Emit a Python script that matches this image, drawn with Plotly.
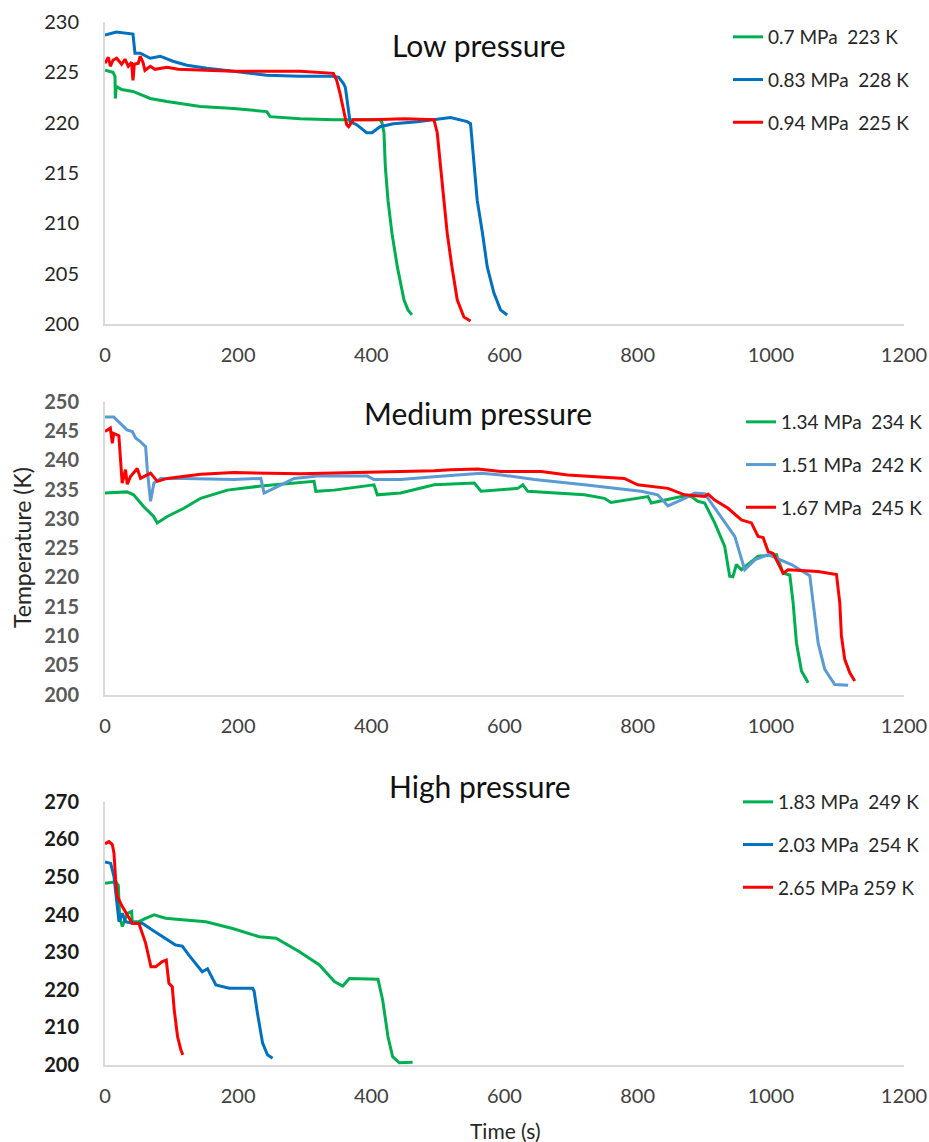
import plotly.graph_objects as go

# ---- Low pressure runs ----
lo_green_t = [0, 12, 15, 15.5, 17, 25, 42, 68, 93, 143, 193, 243, 248, 293, 343, 413, 416, 419, 421, 425, 431, 439, 449, 455, 461]
lo_green_T = [225.2, 225.0, 224.6, 222.4, 223.6, 223.3, 223.1, 222.4, 222.1, 221.6, 221.4, 221.1, 220.6, 220.4, 220.3,
              220.3, 220.0, 219.0, 215.6, 212.3, 209.0, 205.7, 202.4, 201.4, 200.9]

lo_blue_t = [0, 17, 42, 44, 45, 53, 68, 83, 102, 123, 153, 193, 243, 293, 343, 351, 358, 361, 366, 368, 378, 393, 401,
             413, 433, 469, 519, 544, 549, 554, 559, 567, 574, 584, 594, 604]
lo_blue_T = [228.7, 229.0, 228.8, 227.5, 226.9, 226.9, 226.4, 226.6, 226.1, 225.7, 225.4, 225.1, 224.7, 224.6, 224.6,
             224.5, 223.9, 223.5, 221.3, 220.1, 219.8, 219.0, 219.0, 219.6, 219.9, 220.1, 220.5, 220.1, 219.9, 216.3,
             212.3, 209.0, 205.7, 203.1, 201.4, 200.9]

lo_red_t = [0, 5, 8, 12, 17.5, 25, 30, 35, 40, 42, 44, 50, 53, 57, 60, 68, 75, 93, 110, 143, 193, 243, 293, 343, 348,
            353, 358, 363, 366, 373, 400, 450, 494, 499, 504, 509, 514, 521, 529, 539, 549]
lo_red_T = [225.9, 226.5, 225.6, 226.2, 226.4, 225.8, 226.3, 225.6, 226.0, 224.2, 225.8, 225.9, 226.6, 226.0, 225.2,
            225.6, 225.3, 225.5, 225.3, 225.2, 225.1, 225.1, 225.1, 224.9, 224.2, 222.9, 221.3, 219.8, 219.6, 220.3,
            220.3, 220.4, 220.3, 219.0, 215.6, 212.3, 209.0, 205.7, 202.4, 200.7, 200.3]

# ---- Medium pressure runs ----
md_green_t = [0, 33, 43, 58, 73, 78.5, 93.5, 118.5, 143.6, 183.8, 234, 314, 316.6, 344, 404, 409, 444, 494.5, 554.7,
              564.7, 620, 627.5, 635, 670, 720, 750, 760, 815.5, 820.4, 865.5, 880.5, 890.5, 900.6, 915.7, 930.7,
              938.2, 943, 948.3, 955.8, 980.9, 1008.4, 1018.5, 1028.5, 1033.5, 1038.5, 1046, 1056]
md_green_T = [234.4, 234.6, 234.1, 232.1, 230.4, 229.3, 230.4, 231.8, 233.5, 234.9, 235.6, 236.4, 234.7, 234.9, 235.8,
              234.1, 234.4, 235.8, 236.1, 234.7, 235.2, 235.8, 234.7, 234.4, 234.1, 233.5, 232.8, 233.8, 232.7, 233.8,
              233.8, 233.0, 232.7, 229.3, 225.3, 220.2, 220.1, 222.2, 221.3, 223.6, 223.9, 220.7, 220.4, 215.6, 208.8,
              204.0, 202.0]

md_blue_t = [0, 13, 23, 33, 41, 46, 53, 61, 63.5, 68.4, 73.4, 83.5, 118.5, 193.7, 234, 239, 259, 284, 319, 394, 404,
             444, 494, 565, 595, 645, 720, 770, 805, 830, 845.5, 870.5, 885.5, 900.6, 920.7, 935.8, 945.8, 960.8,
             975.9, 996, 1021, 1031, 1058.5, 1063.6, 1071, 1081, 1096, 1116]
md_blue_T = [247.4, 247.4, 246.3, 245.2, 244.9, 243.8, 243.2, 242.3, 238.4, 233.0, 236.1, 236.9, 236.9, 236.7, 236.9,
             234.4, 235.5, 236.9, 237.3, 237.3, 236.7, 236.7, 237.2, 237.8, 237.5, 236.7, 235.8, 235.2, 234.7, 234.1,
             232.2, 233.5, 234.4, 234.3, 231.0, 228.7, 227.0, 221.3, 223.0, 223.9, 222.7, 222.2, 220.3, 215.6, 208.8,
             204.3, 201.7, 201.6]

md_red_t = [0, 8, 11, 13, 20.8, 25.8, 30.8, 33.4, 38.3, 48.4, 53.4, 68.4, 78.5, 93.5, 143.6, 193.7, 294, 394, 494.5,
            519.6, 559.8, 594.8, 655, 695, 745, 780, 800, 845.5, 870.5, 900.6, 905.7, 915.7, 935.8, 955.8, 970.8,
            980.9, 988.4, 996, 1003.5, 1011, 1018.5, 1026, 1071, 1098.6, 1103.6, 1106, 1111, 1118.6, 1126]
md_red_T = [244.9, 245.5, 242.9, 244.6, 244.2, 236.1, 238.4, 235.9, 237.2, 238.6, 236.9, 237.8, 236.4, 236.9, 237.6,
            237.9, 237.7, 237.9, 238.2, 238.4, 238.5, 238.1, 238.1, 237.5, 237.2, 236.9, 235.8, 235.2, 234.1, 233.8,
            234.2, 233.2, 231.8, 229.8, 229.3, 227.0, 226.8, 224.4, 224.1, 222.5, 220.7, 221.3, 221.0, 220.5, 215.6,
            210.0, 206.0, 203.7, 202.3]

# ---- High pressure runs ----
hi_green_t = [0, 16, 20, 22, 26, 33.6, 40, 41, 51, 61, 73.7, 91, 116, 151.5, 191.6, 231.8, 257, 292, 322, 344.6, 357,
              367, 410, 417, 425, 432, 442, 462]
hi_green_T = [248.3, 248.7, 247.8, 239.4, 236.8, 240.3, 240.8, 238.1, 238.1, 239.0, 239.9, 239.0, 238.6, 238.1, 236.3,
              234.1, 233.7, 230.1, 226.6, 222.2, 221.0, 223.0, 222.8, 217.3, 207.5, 202.2, 200.6, 200.7]

hi_blue_t = [0, 8.5, 13.5, 18.5, 21, 26, 31, 41, 56, 71, 86, 106, 116, 126, 146, 154, 166.6, 186.6, 221.7, 224, 229,
             236.7, 244, 251.7]
hi_blue_T = [254.0, 253.6, 250.1, 243.0, 238.1, 240.3, 238.1, 237.7, 237.7, 235.9, 234.1, 231.9, 231.6, 229.2, 224.8,
             225.6, 221.3, 220.4, 220.4, 219.6, 213.7, 205.8, 202.7, 201.8]

hi_red_t = [0, 6, 11, 13.5, 16, 18.5, 26, 36, 41, 51, 61, 69, 76, 86, 92, 96, 101, 104, 109, 114, 117]
hi_red_T = [258.8, 259.4, 258.6, 256.3, 249.2, 244.8, 242.1, 239.0, 237.7, 237.6, 232.4, 226.1, 226.1, 227.5, 227.9,
            221.7, 220.8, 214.6, 207.5, 204.0, 202.7]

lo_names = ["0.7 MPa  223 K", "0.83 MPa  228 K", "0.94 MPa  225 K"]
md_names = ["1.34 MPa  234 K", "1.51 MPa  242 K", "1.67 MPa  245 K"]
hi_names = ["1.83 MPa  249 K", "2.03 MPa  254 K", "2.65 MPa 259 K"]

GREEN, BLUE, RED, LIGHTBLUE = "#00B050", "#0070C0", "#FF0000", "#5B9BD5"
FONT = "Lato, 'Open Sans', sans-serif"
W, H = 929, 1142

fig = go.Figure()

panels = [
    ("x", "y", "legend", [(lo_green_t, lo_green_T, GREEN), (lo_blue_t, lo_blue_T, BLUE), (lo_red_t, lo_red_T, RED)], lo_names),
    ("x2", "y2", "legend2", [(md_green_t, md_green_T, GREEN), (md_blue_t, md_blue_T, LIGHTBLUE), (md_red_t, md_red_T, RED)], md_names),
    ("x3", "y3", "legend3", [(hi_green_t, hi_green_T, GREEN), (hi_blue_t, hi_blue_T, BLUE), (hi_red_t, hi_red_T, RED)], hi_names),
]

for xa, ya, lg, series, names in panels:
    for i, ((t, T, c), nm) in enumerate(zip(series, names)):
        fig.add_trace(go.Scatter(
            x=t, y=T, mode="lines", name=nm,
            line=dict(color=c, width=3),
            xaxis=xa, yaxis=ya, legend=lg, legendgroup=f"{lg}_{i}",
        ))

xdom = [105 / W, 904 / W]
def ydom(top_px, bot_px):
    return [1 - bot_px / H, 1 - top_px / H]

axis_line = dict(showline=True, linecolor="#D9D9D9", linewidth=2, showgrid=False, zeroline=False,
                 ticks="", automargin=False)
xtick_font = dict(family=FONT, size=20, color="#404040")

def xaxis(anchor):
    return dict(domain=xdom, range=[0, 1200], dtick=200, tick0=0, anchor=anchor,
                tickfont=xtick_font, ticklabelstandoff=12, **axis_line)

legend_common = dict(
    font=dict(family=FONT, size=19, color="#262626"),
    bgcolor="rgba(0,0,0,0)", tracegroupgap=15, xanchor="left", yanchor="top",
    itemwidth=30,
)

fig.update_layout(
    width=W, height=H, autosize=False,
    margin=dict(l=0, r=0, t=0, b=0, autoexpand=False),
    paper_bgcolor="white", plot_bgcolor="white",
    font=dict(family=FONT),
    xaxis=xaxis("y"),
    xaxis2=xaxis("y2"),
    xaxis3=xaxis("y3"),
    yaxis=dict(domain=ydom(22, 324), range=[200, 230], dtick=5, anchor="x",
               tickfont=dict(family=FONT, size=20, color="#262626"), ticklabelstandoff=20, **axis_line),
    yaxis2=dict(domain=ydom(401.7, 694.5), range=[200, 250], dtick=5, anchor="x2",
                tickfont=dict(family=FONT, size=20, color="#595959", weight="bold"), ticklabelstandoff=20, **axis_line),
    yaxis3=dict(domain=ydom(801.7, 1065), range=[200, 270], dtick=10, anchor="x3",
                tickfont=dict(family=FONT, size=20, color="#1A1A1A", weight="bold"), ticklabelstandoff=20, **axis_line),
    legend=dict(x=728 / W, y=1 - 18 / H, **legend_common),
    legend2=dict(x=741 / W, y=1 - 403 / H, **legend_common),
    legend3=dict(x=738 / W, y=1 - 783 / H, **legend_common),
    showlegend=True,
)

title_font = dict(family=FONT, size=30, color="#111111")
annotations = [
    dict(text="Low pressure", x=479 / W, y=1 - 45 / H),
    dict(text="Medium pressure", x=478 / W, y=1 - 413 / H),
    dict(text="High pressure", x=480 / W, y=1 - 786 / H),
]
for a in annotations:
    fig.add_annotation(xref="paper", yref="paper", showarrow=False, font=title_font,
                       xanchor="center", yanchor="middle", **a)

fig.add_annotation(text="Temperature (K)", xref="paper", yref="paper", x=22 / W, y=1 - 548 / H,
                   textangle=-90, showarrow=False, xanchor="center", yanchor="middle",
                   font=dict(family=FONT, size=23, color="#262626"))
fig.add_annotation(text="Time (s)", xref="paper", yref="paper", x=505 / W, y=1 - 1130 / H,
                   showarrow=False, xanchor="center", yanchor="middle",
                   font=dict(family=FONT, size=21, color="#262626"))

fig.write_html("out.html")
